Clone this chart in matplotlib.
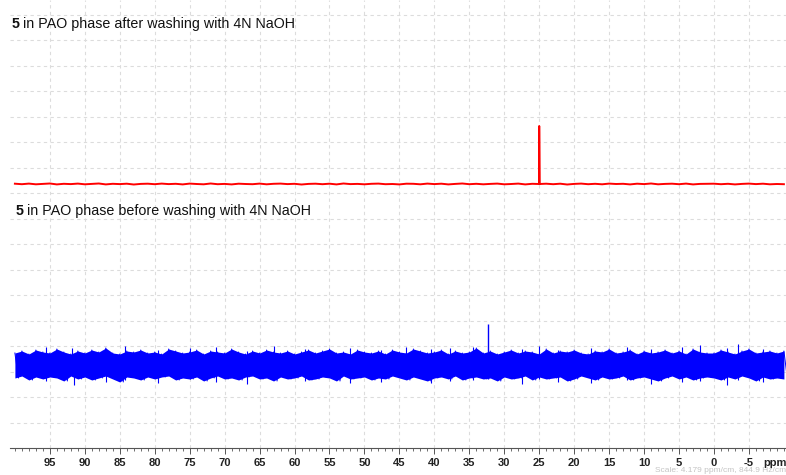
import numpy as np
import matplotlib
matplotlib.use('Agg')
import matplotlib.pyplot as plt

# chemical shift axis (ppm), one sample per ppm, 100 -> -10
ppm = np.arange(100, -10.5, -1.0)

# red trace (after washing): small baseline noise + one sharp peak
red_noise = [0.3,-0.2,0.4,-0.3,0.1,0.5,-0.4,0.2,-0.1,0.4,
             -0.3,0.1,0.5,-0.4,0.2,-0.1,0.3,-0.5,0.1,0.3,
             -0.2,0.4,-0.1,0.2,-0.4,0.4,0.0,-0.3,0.5,-0.2,
             0.1,-0.4,0.3,0.0,-0.2,0.4,-0.3,0.2,0.4,-0.1,
             0.2,-0.5,0.1,0.3,-0.2,0.3,-0.4,0.5,-0.1,0.1,
             -0.3,0.2,0.4,-0.2,0.0,-0.4,0.3,0.2,-0.3,0.4,
             -0.1,0.3,-0.4,0.1,0.5,-0.2,0.2,-0.3,0.1,0.4,
             -0.3,0.0,0.4,-0.4,0.2,-0.1,0.3,-0.2,0.3,-0.5,
             0.1,0.4,-0.2,0.2,-0.3,0.4,0.0,0.2,-0.4,0.3,
             -0.1,0.5,-0.3,0.1,0.3,-0.2,0.4,-0.4,0.1,0.2,
             0.3,-0.2,0.2,-0.4,0.1,0.4,-0.1,0.3,-0.3,0.0,
             -0.2]
red_peak_ppm = 25.0
red_peak_height = 58

# blue trace (before washing): upper/lower noise envelope (on the ppm grid
# and half a ppm further), spikes and one small peak
blue_upper = [12,14,11,15,13,12,16,13,11,14,
              12,15,13,17,12,11,14,13,15,12,
              13,11,16,14,12,13,15,11,14,13,
              12,16,13,11,14,12,15,13,12,14,
              11,13,15,12,14,16,12,13,11,15,
              13,12,14,11,15,13,12,16,14,12,
              13,15,11,14,12,13,17,12,14,11,
              13,15,12,14,13,11,16,12,14,13,
              15,12,11,14,13,16,12,13,15,11,
              14,12,13,15,12,14,11,16,13,12,
              12,15,13,11,14,16,12,13,14,12,
              14]
blue_lower = [-13,-11,-15,-12,-14,-12,-13,-16,-11,-14,
              -12,-15,-13,-11,-14,-17,-12,-13,-15,-12,
              -14,-12,-11,-15,-13,-14,-12,-16,-13,-11,
              -14,-13,-15,-12,-11,-14,-13,-16,-12,-14,
              -13,-11,-15,-14,-12,-13,-16,-11,-14,-13,
              -12,-15,-13,-14,-11,-13,-15,-12,-14,-16,
              -13,-12,-14,-11,-15,-13,-12,-14,-13,-16,
              -12,-14,-13,-11,-15,-12,-14,-13,-12,-16,
              -14,-11,-13,-15,-12,-14,-13,-11,-15,-13,
              -12,-14,-16,-13,-11,-14,-12,-15,-13,-12,
              -13,-15,-12,-14,-11,-13,-16,-12,-14,-13,
              -14]
spike_ppm = [95.5,91.8,91.5,87.0,84.2,79.5,75.0,71.3,66.8,63.0,
             58.5,52.0,47.7,44.0,40.5,37.8,34.5,27.5,25.0,22.3,
             17.6,12.5,9.0,4.6,2.0,-1.8,-3.5,-7.0]
spike_hi = [18,17,8,16,19,15,17,18,14,19,
            16,17,15,18,16,17,18,16,19,15,
            17,18,16,18,20,17,21,16]
spike_lo = [-16,-8,-20,-17,-15,-18,-14,-17,-19,-15,
            -16,-18,-17,-14,-18,-16,-15,-19,-14,-17,
            -18,-15,-19,-17,-16,-20,-15,-17]
blue_peak_ppm = 32.3
blue_peak_hi = 41
blue_peak_lo = -14

title_top = 'in PAO phase after washing with 4N NaOH'
title_bottom = 'in PAO phase before washing with 4N NaOH'

# vertical offsets of the two traces (in pixel-like units above the axis)
red_offset = 264
blue_offset = 83

W, H = 786, 475
fig = plt.figure(figsize=(W / 100, H / 100), dpi=100)
ax = fig.add_axes([10 / W, 27 / H, 1 - 10 / W, 448 / H])
ax.set_xlim(100.7, -10.3)
ax.set_ylim(0, 448)

# grid
ax.set_xticks(np.arange(95, -6, -5))
ax.set_xticks(np.arange(100, -11, -1), minor=True)
ax.set_yticks(np.arange(25.5, 448, 25.5))
ax.grid(True, which='major', color='#dcdcdc', linestyle=(0, (3, 3)), linewidth=0.8)
ax.set_axisbelow(True)

# red spectrum
r_x = np.append(ppm, [red_peak_ppm + 0.05, red_peak_ppm, red_peak_ppm - 0.05])
r_y = np.append(np.array(red_noise), [0, red_peak_height, 0])
order = np.argsort(-r_x, kind='stable')
ax.plot(r_x[order], r_y[order] + red_offset, color='#ff0000', linewidth=1.4)

# blue spectrum: filled core + zigzag through upper (on grid) / lower (half step)
bu = np.array(blue_upper) + blue_offset
bl = np.array(blue_lower) + blue_offset
ax.fill_between(ppm, bl, bu, color='#0000ff', linewidth=0)
zx = np.empty(2 * len(ppm))
zy = np.empty(2 * len(ppm))
zx[0::2] = ppm
zx[1::2] = ppm - 0.5
zy[0::2] = bu
zy[1::2] = bl
ax.plot(zx, zy, color='#0000ff', linewidth=0.7)
ax.vlines(spike_ppm, np.array(spike_lo) + blue_offset, np.array(spike_hi) + blue_offset,
          color='#0000ff', linewidth=0.8)
ax.vlines([blue_peak_ppm], [blue_peak_lo + blue_offset], [blue_peak_hi + blue_offset],
          color='#0000ff', linewidth=1.0)

# axes styling
for s in ['top', 'left', 'right']:
    ax.spines[s].set_visible(False)
ax.spines['bottom'].set_color('#555555')
ax.spines['bottom'].set_linewidth(0.8)
ax.tick_params(axis='y', left=False, labelleft=False)
ax.tick_params(axis='x', which='major', direction='out', length=4, width=0.7,
               color='#555555', pad=3, labelsize=8, labelcolor='#222222')
ax.tick_params(axis='x', which='minor', direction='out', length=2.5, width=0.6,
               color='#555555')
ax.set_xticklabels([str(v) for v in range(95, -6, -5)],
                   fontfamily=['Liberation Sans Narrow', 'Liberation Sans'],
                   fontweight='bold')

fig.text(775 / W, 1 - 463 / H, 'ppm', ha='center', va='center', fontsize=8,
         fontweight='bold', color='#222222',
         family=['Liberation Sans Narrow', 'Liberation Sans'])
fig.text(1.0, 1 - 470 / H, 'Scale: 4.179 ppm/cm, 844.9 Hz/cm', ha='right', va='center',
         fontsize=6, color='#c4c4c4', family='Liberation Sans')

# spectrum labels
fig.text(12 / W, 1 - 24 / H, '5', fontsize=10.3, fontweight='bold', va='center',
         family='Liberation Sans', color='#111111')
fig.text(23 / W, 1 - 24 / H, title_top, fontsize=10.3, va='center',
         family='Liberation Sans', color='#111111')
fig.text(16 / W, 1 - 211 / H, '5', fontsize=10.3, fontweight='bold', va='center',
         family='Liberation Sans', color='#111111')
fig.text(27 / W, 1 - 211 / H, title_bottom, fontsize=10.3, va='center',
         family='Liberation Sans', color='#111111')

fig.savefig('out.png', dpi=100)
